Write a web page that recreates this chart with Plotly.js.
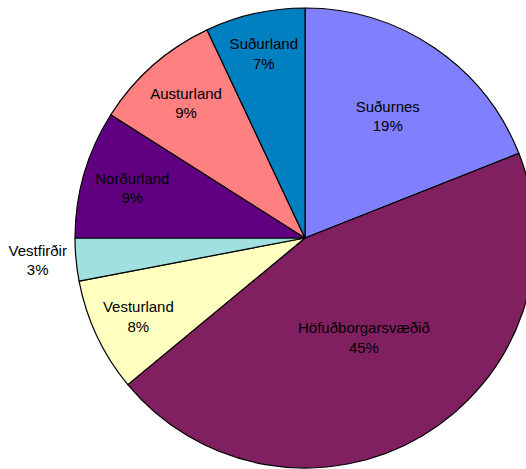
<!DOCTYPE html>
<html><head><meta charset="utf-8">
<script src="https://cdn.plot.ly/plotly-3.0.1.min.js"></script>
<style>html,body{margin:0;padding:0;overflow:hidden;background:#fff}#chart{width:560px;height:469px}</style>
</head><body><div id="chart"></div>
<script>
const regions = ["Suðurnes","Höfuðborgarsvæðið","Vesturland","Vestfirðir","Norðurland","Austurland","Suðurland"];
const shares = [19,45,8,3,9,9,7];
const colors = ["#8080FF","#802060","#FFFFC0","#A0E0E0","#600080","#FF8080","#0080C0"];
const textPositions = ["inside","inside","inside","outside","inside","inside","inside"];

Plotly.newPlot("chart",[{
  type:"pie",
  labels:regions,
  values:shares,
  sort:false,
  direction:"clockwise",
  rotation:0,
  marker:{colors:colors,line:{color:"#000",width:1.2}},
  textinfo:"label+percent",
  texttemplate:"%{label}<br>%{percent:.0%}",
  textposition:textPositions,
  insidetextorientation:"horizontal",
  textfont:{family:"Liberation Sans, Arial, sans-serif",size:15,color:"#000"},
  outsidetextfont:{family:"Liberation Sans, Arial, sans-serif",size:15,color:"#000"},
  showlegend:false,
  automargin:false,
  hoverinfo:"none"
}],{
  width:560,height:469,
  margin:{l:75,r:25,t:8,b:1},
  paper_bgcolor:"#fff",
  showlegend:false
},{staticPlot:true});
</script></body></html>
